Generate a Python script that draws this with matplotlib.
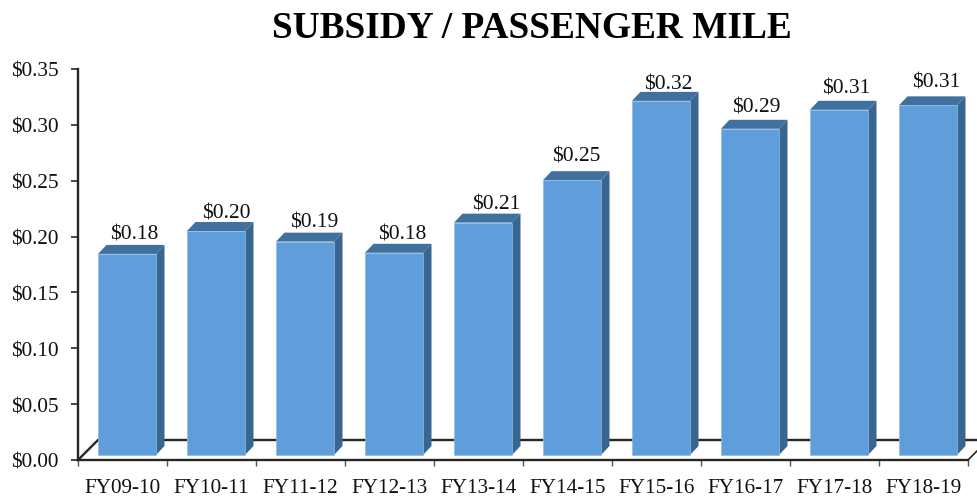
#subsidy per passenger mile, fake 3d bars
import matplotlib
matplotlib.use('Agg')
import matplotlib.pyplot as plt
from matplotlib.patches import Polygon

years = ['FY09-10', 'FY10-11', 'FY11-12', 'FY12-13', 'FY13-14',
         'FY14-15', 'FY15-16', 'FY16-17', 'FY17-18', 'FY18-19']
subsidy = [0.180, 0.2005, 0.191, 0.181, 0.208, 0.246, 0.317, 0.292, 0.309, 0.313]
yticks = [0.00, 0.05, 0.10, 0.15, 0.20, 0.25, 0.30, 0.35]

# label nudges in pixels from the top centre of each bar, picture is not regular
label_dx = [7, 10, 9, 8, 13, 4, 7, 6, 7, 8]
label_dy = [10, 9, 10, 9, 9, 15, 7, 12, 12, 14]

W, H = 978, 502
x0, x1, y_bottom, y_top = 78, 968, 461, 70

plt.rcParams['font.family'] = ['Liberation Serif', 'DejaVu Serif']
fig = plt.figure(figsize=(W / 100, H / 100), dpi=100)
ax = fig.add_axes([x0 / W, 1 - y_bottom / H, (x1 - x0) / W, (y_bottom - y_top) / H])
ax.set_xlim(0, len(years))
ax.set_ylim(0, 0.35)

# pixel sizes to data units
px_x = len(years) / (x1 - x0)
px_y = 0.35 / (y_bottom - y_top)

axis_col = '#262626'
front_col = '#5f9edb'
side_col = '#38668f'
top_col = '#40719e'

# floor of the 3d box
floor_dx = 20 * px_x
floor_dy = 20 * px_y
n = len(years)
ax.plot([0, floor_dx, n + floor_dx], [0, floor_dy, floor_dy], color=axis_col, lw=1.7,
        clip_on=False, zorder=1, solid_joinstyle='miter')
ax.plot([n, n + floor_dx], [0, floor_dy], color=axis_col, lw=1.2, clip_on=False, zorder=1)

bar_w = 58 * px_x
depth_x = 8.5 * px_x
depth_y = 9 * px_y
base = 5 * px_y
shift = 20 * px_x  # front face starts this far from the tick

for i, v in enumerate(subsidy):
    left = i + shift
    right = left + bar_w
    top = base + v
    ax.bar(left, v, width=bar_w, bottom=base, align='edge', color=front_col,
           edgecolor='#8dbbe6', linewidth=0.5, zorder=3)
    ax.add_patch(Polygon([(right, base), (right + depth_x, base + depth_y),
                          (right + depth_x, top + depth_y), (right, top)],
                         closed=True, facecolor=side_col, edgecolor='none', zorder=2.5))
    ax.add_patch(Polygon([(left, top), (left + depth_x, top + depth_y),
                          (right + depth_x, top + depth_y), (right, top)],
                         closed=True, facecolor=top_col, edgecolor='none', zorder=2.5))
    ax.annotate('$%.2f' % v, xy=(left + bar_w / 2, top),
                xytext=((label_dx[i]) * 0.72, (label_dy[i]) * 0.72), textcoords='offset points',
                ha='center', va='bottom', fontsize=15.5, color='#111111', zorder=5)

for s in ['top', 'right']:
    ax.spines[s].set_visible(False)
for s in ['left', 'bottom']:
    ax.spines[s].set_color(axis_col)
    ax.spines[s].set_linewidth(1.7)
    ax.spines[s].set_zorder(4)

ax.set_yticks(yticks)
ax.set_yticklabels(['$%.2f' % t for t in yticks], fontsize=15.3, color='#111111')
ax.set_xticks(range(n + 1))
ax.set_xticklabels([])
ax.set_xticks([i + 0.5 for i in range(n)], minor=True)
ax.set_xticklabels(years, minor=True, fontsize=15.2, color='#111111')
ax.tick_params(axis='x', which='major', length=4, width=1, color='#555555')
ax.tick_params(axis='x', which='minor', length=0, pad=13)
ax.tick_params(axis='y', length=5, width=1.2, color=axis_col, pad=9)

fig.text(532 / W, 1 - 29 / H, 'SUBSIDY / PASSENGER MILE', ha='center', va='center',
         fontsize=26.9, fontweight='bold', color='black')

fig.savefig('out.png', dpi=100, facecolor='white')
